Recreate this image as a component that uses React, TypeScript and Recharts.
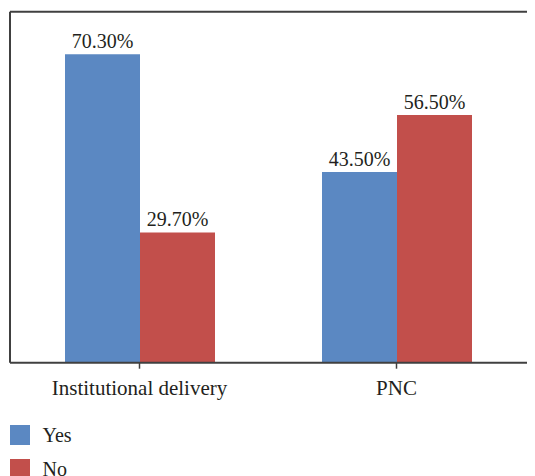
import React from "react";
import { BarChart, Bar, XAxis, YAxis, LabelList, ReferenceLine, Legend } from "recharts";

const categories = ["Institutional delivery", "PNC"];
const yesValues = [70.3, 43.5];
const noValues = [29.7, 56.5];
const seriesNames = ["Yes", "No"];

const data = categories.map((c, i) => ({ name: c, yes: yesValues[i], no: noValues[i] }));

const BLUE = "#5B88C2";
const RED = "#C24F4B";
const FONT = "Liberation Serif, Tinos, Times New Roman, Times, DejaVu Serif, serif";
const TEXT = "#231f20";

const fmt = (v: any) => `${Number(v).toFixed(2)}%`;

const renderLegend = () => (
  <div style={{ fontFamily: FONT, fontSize: 20, color: TEXT }}>
    {[{ n: seriesNames[0], c: BLUE }, { n: seriesNames[1], c: RED }].map((it) => (
      <div key={it.n} style={{ display: "flex", alignItems: "center", height: 20, marginBottom: 14 }}>
        <div style={{ width: 20, height: 20, background: it.c, marginRight: 13 }} />
        <span style={{ lineHeight: "20px" }}>{it.n}</span>
      </div>
    ))}
  </div>
);

export default function App() {
  return (
    <div style={{ width: 527, height: 468, overflow: "hidden", fontFamily: FONT }}>
      <style>{`html,body{overflow:hidden;}`}</style>
      <BarChart
        width={527}
        height={468}
        data={data}
        margin={{ top: 3.8, right: 0, left: 1, bottom: 83.3 }}
        barGap={0}
        barCategoryGap={54}
        style={{ fontFamily: FONT }}
      >
        <XAxis
          dataKey="name"
          height={30}
          padding={{ left: 1, right: 10 }}
          axisLine={{ stroke: "#404040", strokeWidth: 2 }}
          tickLine={{ stroke: "#404040", strokeWidth: 1.5 }}
          tickSize={6}
          tickMargin={11}
          tick={{ fontFamily: FONT, fontSize: 21, fill: TEXT }}
          interval={0}
        />
        <YAxis
          domain={[0, 80]}
          width={1}
          tick={false}
          tickLine={false}
          axisLine={{ stroke: "#404040", strokeWidth: 2 }}
        />
        <ReferenceLine y={80} stroke="#404040" strokeWidth={2} />
        <Legend
          layout="horizontal"
          verticalAlign="middle"
          align="center"
          wrapperStyle={{ left: 1.5, top: 417, width: 200 }}
          content={renderLegend}
        />
        <Bar dataKey="yes" name={seriesNames[0]} fill={BLUE} isAnimationActive={false}>
          <LabelList dataKey="yes" position="top" offset={6} formatter={fmt} fontFamily={FONT} fontSize={20} fill={TEXT} />
        </Bar>
        <Bar dataKey="no" name={seriesNames[1]} fill={RED} isAnimationActive={false}>
          <LabelList dataKey="no" position="top" offset={6} formatter={fmt} fontFamily={FONT} fontSize={20} fill={TEXT} />
        </Bar>
      </BarChart>
    </div>
  );
}
